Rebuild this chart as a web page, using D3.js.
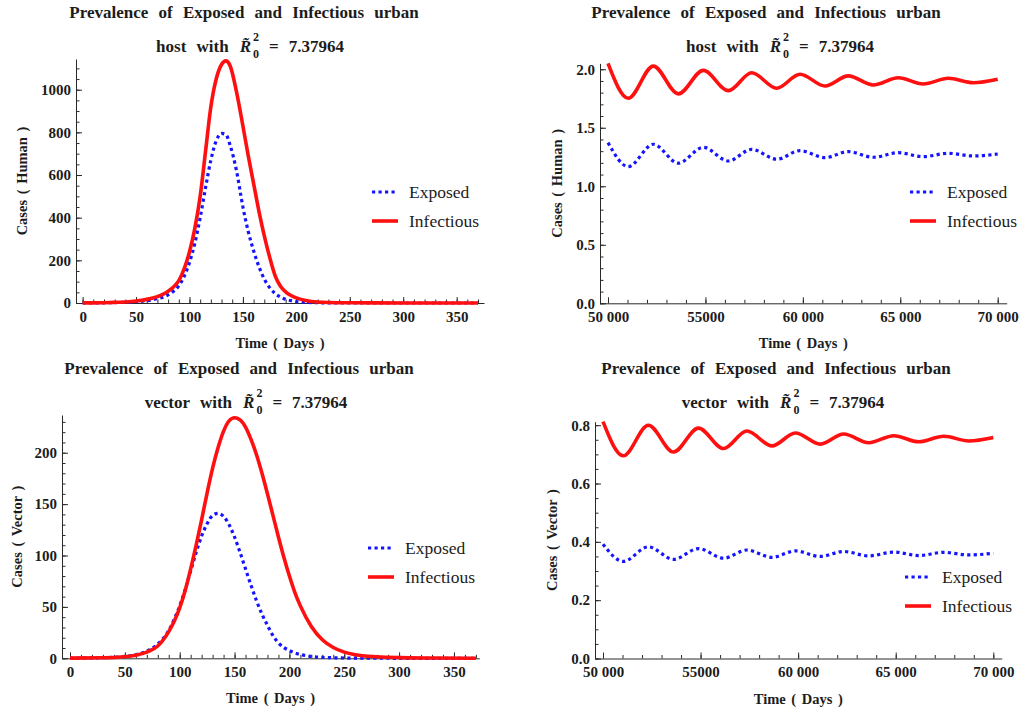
<!DOCTYPE html>
<html><head><meta charset="utf-8">
<script src="https://cdn.jsdelivr.net/npm/d3@7"></script>
<style>
body{margin:0;background:#fff;}
svg{display:block;}
text{font-family:"Liberation Serif","Times New Roman",serif;}
</style></head><body>
<svg id="c" width="1021" height="715"></svg>
<script>
// ---------- DATA ----------
const seriesNames = ["Exposed", "Infectious"];
const hostDays = [0,10,20,30,40,50,60,70,75,80,85,90,95,100,105,110,115,120,125,130,134,138,144,150,155,160,165,170,175,180,185,190,195,200,210,220,230,250,300,370];
const hostExposed = [0.3,0.5,1,2,3,6,11,20,27,38,55,80,125,190,280,400,540,670,760,795,790,740,620,450,335,245,170,112,72,45,28,17,11,7,3,1.2,0.5,0.2,0,0];
const hostInfectious = [0.5,0.8,1.5,3,5,9,17,30,40,55,75,105,160,240,350,500,710,920,1050,1118,1135,1112,990,830,690,560,430,315,215,130,80,52,35,24,11,5,2.5,1,0.3,0.1];

const vectorDays = [0,30,50,60,70,80,90,95,100,105,110,115,120,125,130,135,140,145,150,155,160,165,170,175,180,185,190,195,200,205,210,220,230,240,250,260,280,300,330,370];
const vectorExposed = [0.2,0.6,1.8,3.5,7,14,27,38,51,67,85,103,119,131,139,141,138,130,118,103,87,71,56,43,32,22,15,10.5,7.5,5.2,3.7,1.8,0.9,0.5,0.3,0.2,0.1,0,0,0];
const vectorInfectious = [0.2,0.5,1.5,3,6,12,26,36,49,66,87,110,135,161,185,205,221,231,234,232,225,213,198,180,160,139,118,98,80,64,51,31,18,10.5,6,3.5,1.5,0.7,0.3,0.1];

const longDays = [50000,51040,52325,53610,54890,56175,57375,58655,59855,61135,62330,63615,64900,66180,67465,68745,70000];
const hostExposedLong = [1.373,1.168,1.359,1.197,1.333,1.216,1.316,1.231,1.304,1.245,1.296,1.248,1.287,1.253,1.282,1.259,1.276];
const hostInfectiousLong = [2.05,1.752,2.027,1.79,1.99,1.817,1.97,1.838,1.957,1.857,1.943,1.866,1.928,1.874,1.923,1.885,1.915];
const vectorExposedLong = [0.392,0.333,0.383,0.340,0.377,0.344,0.372,0.347,0.369,0.350,0.367,0.352,0.365,0.353,0.364,0.355,0.361];
const vectorInfectiousLong = [0.812,0.695,0.800,0.708,0.790,0.720,0.780,0.729,0.773,0.735,0.770,0.740,0.764,0.743,0.762,0.746,0.758];

const dayTicks = [0,50,100,150,200,250,300,350];
const dayTickLabels = ["0","50","100","150","200","250","300","350"];
const longTicks = [50000,55000,60000,65000,70000];
const longTickLabels = ["50 000","55000","60 000","65 000","70 000"];
const hostTicks = [0,200,400,600,800,1000];
const hostTickLabels = ["0","200","400","600","800","1000"];
const vectorTicks = [0,50,100,150,200];
const vectorTickLabels = ["0","50","100","150","200"];
const hostLongTicks = [0,0.5,1,1.5,2];
const hostLongTickLabels = ["0.0","0.5","1.0","1.5","2.0"];
const vectorLongTicks = [0,0.2,0.4,0.6,0.8];
const vectorLongTickLabels = ["0.0","0.2","0.4","0.6","0.8"];

// ---------- DRAW ----------
const svg = d3.select("#c");
const TXT = "#1c1c1c";
const AX = "#2a2a2a";
const BLUE = "#1414ff";
const RED = "#ff1010";

function zip(a, b){ return a.map((d,i)=>[d, b[i]]); }

function drawTitle(cx, y1, who, shift){
  svg.append("text").attr("x",cx).attr("y",y1).attr("text-anchor","middle")
    .attr("font-weight","bold").attr("font-size",17).attr("word-spacing",6).attr("fill",TXT)
    .text("Prevalence of Exposed and Infectious urban");
  const y2 = y1 + 34.5;
  const g = svg.append("g").attr("fill",TXT).attr("font-weight","bold");
  let cur = 0;
  const a = g.append("text").attr("x",0).attr("y",y2).attr("font-size",17).attr("word-spacing",6).text(who + " with");
  cur = a.node().getComputedTextLength() + 11;
  const R = g.append("text").attr("x",cur).attr("y",y2).attr("font-size",17).attr("font-style","italic").text("R\u0303");
  const rw = R.node().getComputedTextLength();
  cur += rw + 2;
  const sup = g.append("text").attr("x",cur).attr("y",y2 - 11).attr("font-size",12).text("2");
  g.append("text").attr("x",cur).attr("y",y2 + 5.5).attr("font-size",12).text("0");
  cur += sup.node().getComputedTextLength() + 10;
  const eq = g.append("text").attr("x",cur).attr("y",y2).attr("font-size",17).text("=");
  cur += eq.node().getComputedTextLength() + 10;
  const num = g.append("text").attr("x",cur).attr("y",y2).attr("font-size",17).text("7.37964");
  cur += num.node().getComputedTextLength();
  g.attr("transform", `translate(${cx + shift - cur/2},0)`);
}

function styleAxis(sel, size){
  sel.attr("font-family",'"Liberation Serif","Times New Roman",serif').attr("font-size",size).attr("font-weight","bold");
  sel.selectAll("text").attr("fill",TXT);
  sel.selectAll("line").attr("stroke",AX);
  sel.selectAll("path").attr("stroke",AX);
}

function drawPanel(p){
  const x = d3.scaleLinear().domain(p.xDomain).range([p.left, p.right]);
  const y = d3.scaleLinear().domain(p.yDomain).range([p.bottom, p.top]);
  const g = svg.append("g");

  // minor ticks
  g.append("g").attr("transform",`translate(0,${p.bottom})`)
    .call(d3.axisBottom(x).tickValues(p.xMinor).tickSize(-3.5).tickFormat(""))
    .call(s=>{ s.select(".domain").remove(); s.selectAll("line").attr("stroke",AX); });
  g.append("g").attr("transform",`translate(${p.left},0)`)
    .call(d3.axisLeft(y).tickValues(p.yMinor).tickSize(-3.5).tickFormat(""))
    .call(s=>{ s.select(".domain").remove(); s.selectAll("line").attr("stroke",AX); });

  // major axes
  g.append("g").attr("transform",`translate(0,${p.bottom})`)
    .call(d3.axisBottom(x).tickValues(p.xTicks).tickFormat((d,i)=>p.xLabels[i]).tickSize(-6).tickSizeOuter(0).tickPadding(8))
    .call(s=>styleAxis(s, 15));
  g.append("g").attr("transform",`translate(${p.left},0)`)
    .call(d3.axisLeft(y).tickValues(p.yTicks).tickFormat((d,i)=>p.yLabels[i]).tickSize(-6).tickSizeOuter(0).tickPadding(5))
    .call(s=>styleAxis(s, 15));

  // lines
  const line = d3.line().x(d=>x(d[0])).y(d=>y(d[1])).curve(d3.curveMonotoneX);
  g.append("path").datum(zip(p.days, p.exposed)).attr("d",line)
    .attr("fill","none").attr("stroke",BLUE).attr("stroke-width",3.2).attr("stroke-dasharray","3.2,3.3");
  g.append("path").datum(zip(p.days, p.infectious)).attr("d",line)
    .attr("fill","none").attr("stroke",RED).attr("stroke-width",3.6).attr("stroke-linejoin","round");

  // axis labels
  const cxp = (p.left + p.right)/2, cyp = (p.top + p.bottom)/2;
  svg.append("text").attr("x",cxp).attr("y",p.bottom + 45).attr("text-anchor","middle")
    .attr("font-weight","bold").attr("font-size",14.5).attr("word-spacing",2).attr("fill",TXT).text("Time ( Days )");
  svg.append("text").attr("transform",`translate(${p.ylabX},${cyp}) rotate(-90)`).attr("text-anchor","middle")
    .attr("font-weight","bold").attr("font-size",14.5).attr("word-spacing",2).attr("fill",TXT).text(p.yTitle);

  // legend
  const cols = [BLUE, RED];
  seriesNames.forEach((name,i)=>{
    const ly = p.legY + i*29;
    const l = svg.append("line").attr("x1",p.legX).attr("x2",p.legX+26).attr("y1",ly).attr("y2",ly)
      .attr("stroke",cols[i]);
    if(i===0) l.attr("stroke-width",3.2).attr("stroke-dasharray","3.2,3.3");
    else l.attr("stroke-width",3.6);
    svg.append("text").attr("x",p.legX+37).attr("y",ly+5.5).attr("font-size",17.5).attr("fill",TXT).text(name);
  });

  drawTitle(p.titleX, p.titleY, p.who, p.titleShift);
}

drawPanel({
  left:76, right:484, top:59, bottom:303,
  xDomain:[-6.2, 375.6], yDomain:[0, 1144],
  xTicks:dayTicks, xLabels:dayTickLabels, xMinor:d3.range(0, 371, 10),
  yTicks:hostTicks, yLabels:hostTickLabels, yMinor:d3.range(0, 1101, 50),
  days:hostDays, exposed:hostExposed, infectious:hostInfectious,
  ylabX:27, yTitle:"Cases ( Human )", legX:372, legY:192,
  titleX:244, titleY:17.5, who:"host", titleShift:6
});
drawPanel({
  left:600, right:1006.7, top:63.4, bottom:303.3,
  xDomain:[49589, 70462], yDomain:[0, 2.05],
  xTicks:longTicks, xLabels:longTickLabels, xMinor:d3.range(50000, 70001, 1000),
  yTicks:hostLongTicks, yLabels:hostLongTickLabels, yMinor:d3.range(0, 20.5, 1).map(v=>v/10),
  days:longDays, exposed:hostExposedLong, infectious:hostInfectiousLong,
  ylabX:561.5, yTitle:"Cases ( Human )", legX:910, legY:192,
  titleX:766, titleY:17.5, who:"host", titleShift:14
});
drawPanel({
  left:62, right:479.3, top:415, bottom:658.3,
  xDomain:[-7.3, 373.1], yDomain:[0, 236.7],
  xTicks:dayTicks, xLabels:dayTickLabels, xMinor:d3.range(0, 371, 10),
  yTicks:vectorTicks, yLabels:vectorTickLabels, yMinor:d3.range(0, 231, 10),
  days:vectorDays, exposed:vectorExposed, infectious:vectorInfectious,
  ylabX:22, yTitle:"Cases ( Vector )", legX:368, legY:548,
  titleX:239, titleY:373.5, who:"vector", titleShift:7
});
drawPanel({
  left:595, right:1001.7, top:421.7, bottom:658.5,
  xDomain:[49590, 70430], yDomain:[0, 0.812],
  xTicks:longTicks, xLabels:longTickLabels, xMinor:d3.range(50000, 70001, 1000),
  yTicks:vectorLongTicks, yLabels:vectorLongTickLabels, yMinor:d3.range(0, 16.5, 1).map(v=>v/20),
  days:longDays, exposed:vectorExposedLong, infectious:vectorInfectiousLong,
  ylabX:557, yTitle:"Cases ( Vector )", legX:905, legY:577,
  titleX:776, titleY:373.5, who:"vector", titleShift:7
});
</script>
</body></html>
